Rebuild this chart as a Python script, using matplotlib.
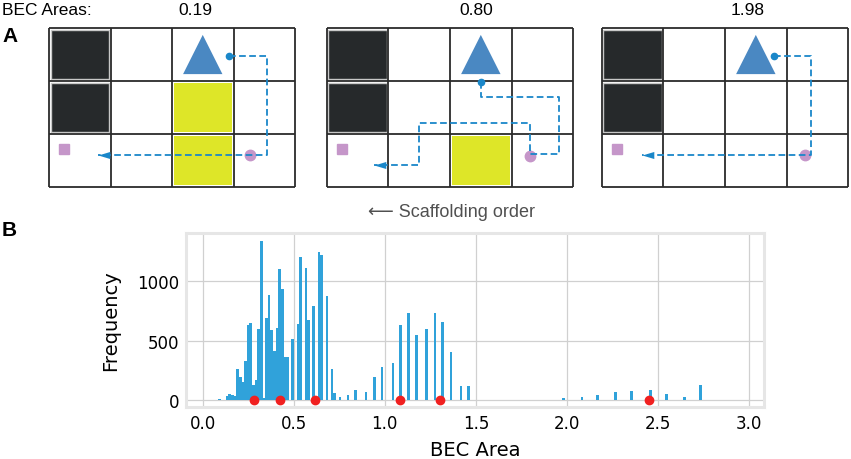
import matplotlib
matplotlib.use("Agg")
import matplotlib.pyplot as plt
from matplotlib.patches import Rectangle, Polygon

# ---- panel A data ----
bec_areas = ["0.19", "0.80", "1.98"]
dark_cells = [(0, 0), (0, 1)]
yellow_cells = [[(2, 1), (2, 2)], [(2, 2)], []]
path_x = [
    [2.92, 3.54, 3.54, 0.80],
    [2.50, 2.50, 3.76, 3.76, 3.29, 3.29, 1.50, 1.50, 0.77],
    [2.79, 3.39, 3.39, 0.65],
]
path_y = [
    [0.53, 0.53, 2.39, 2.39],
    [1.02, 1.30, 1.30, 2.37, 2.37, 1.79, 1.79, 2.58, 2.58],
    [0.53, 0.53, 2.39, 2.39],
]
circle_xy = [(3.27, 2.40), (3.29, 2.41), (3.29, 2.39)]
square_xy = (0.25, 2.28)

# ---- panel B data ----
hist_centers = [0.0916, 0.1348, 0.1492, 0.1636, 0.1780, 0.1924, 0.2068, 0.2212,
                0.2356, 0.2500, 0.2644, 0.2788, 0.2932, 0.3076, 0.3220, 0.3364,
                0.3508, 0.3652, 0.3796, 0.3940, 0.4084, 0.4228, 0.4372, 0.4516,
                0.4660, 0.4948, 0.5236, 0.5380, 0.5668, 0.5812, 0.6100, 0.6388,
                0.6532, 0.6820, 0.7108, 0.7252, 0.7540, 0.7972, 0.8404, 0.8968,
                0.9424, 0.9846, 1.0450, 1.0873, 1.1290, 1.1730, 1.2278, 1.2755,
                1.3178, 1.3623, 1.4172, 1.4610, 1.8810, 1.9820, 2.0820, 2.1685,
                2.2670, 2.3550, 2.4570, 2.5450, 2.6440, 2.7320, 2.8290, 2.8850]
hist_counts = [14, 36, 53, 47, 36, 264, 200, 153, 328, 632, 653, 130, 168, 602,
               1340, 21, 688, 882, 594, 412, 610, 1101, 936, 362, 362, 517, 643,
               1204, 1110, 672, 796, 1248, 1222, 878, 262, 61, 30, 46, 90, 75,
               200, 280, 312, 635, 733, 551, 596, 733, 655, 404, 125, 125, 3, 22,
               31, 45, 75, 78, 87, 53, 31, 126, 3, 3]
marked_areas = [0.282, 0.4265, 0.6186, 1.083, 1.3046, 2.450]

W, H = 851, 460


def box(x0, y0, x1, y1):
    # pixel box -> figure fraction [l, b, w, h]
    return [x0 / W, 1 - y1 / H, (x1 - x0) / W, (y1 - y0) / H]


fig = plt.figure(figsize=(W / 100, H / 100), dpi=100)
fig.patch.set_facecolor("white")

arrow_head = [(0, 0), (2, 0.6), (2, -0.6), (0, 0)]
panel_px = [(49, 295), (326.7, 573.3), (601.7, 848.3)]
label_px = [195, 476.7, 748]

for i, (x0, x1) in enumerate(panel_px):
    ax = fig.add_axes(box(x0, 29, x1, 188))
    ax.set_xlim(0, 4)
    ax.set_ylim(3, 0)
    ax.axis("off")
    for (c, r) in dark_cells:
        ax.add_patch(Rectangle((c + 0.025, r + 0.03), 0.95, 0.94,
                               facecolor="#26292b", edgecolor="#c8c8c8", lw=1))
    for (c, r) in yellow_cells[i]:
        ax.add_patch(Rectangle((c + 0.03, r + 0.035), 0.94, 0.93,
                               facecolor="#dee628", edgecolor="none"))
    ax.vlines(range(5), 0, 3, colors="#2b2b2b", lw=1.3, clip_on=False)
    ax.hlines(range(4), 0, 4, colors="#2b2b2b", lw=1.3, clip_on=False)
    ax.add_patch(Polygon([(2.18, 0.87), (2.82, 0.87), (2.5, 0.13)],
                         closed=True, facecolor="#4a88c2", edgecolor="none"))
    ax.plot(*square_xy, marker="s", ms=6.5, color="#c596c9", ls="none")
    ax.plot(*circle_xy[i], marker="o", ms=7.5, color="#c596c9", ls="none")
    ax.plot(path_x[i], path_y[i], color="#1a87c9", lw=1.3, dashes=(3.7, 1.9))
    ax.plot(path_x[i][0], path_y[i][0], marker="o", ms=4.5, color="#1a87c9")
    ax.plot(path_x[i][-1], path_y[i][-1], marker=arrow_head, ms=17,
            color="#1a87c9", mew=0)
    fig.text(label_px[i] / W, 1 - 10.5 / H, bec_areas[i], ha="center",
             va="center", fontsize=12.5, family="Liberation Sans")

fig.text(2 / W, 1 - 10.5 / H, "BEC Areas:", ha="left", va="center",
         fontsize=12.5, family="Liberation Sans")
fig.text(2 / W, 1 - 37 / H, "A", ha="left", va="center", fontsize=15,
         fontweight="bold", family="Liberation Sans")
fig.text(2 / W, 1 - 231 / H, "B", ha="left", va="center", fontsize=15,
         fontweight="bold", family="Liberation Sans")
fig.text(451 / W, 1 - 213 / H, "\u27f5 Scaffolding order", ha="center",
         va="center", fontsize=13, color="#505050",
         family=["Liberation Sans", "DejaVu Sans"])

# ---- histogram ----
ax = fig.add_axes(box(186, 234, 764, 408))
ax.bar(hist_centers, hist_counts, width=0.0144, color="#30a2da", lw=0, zorder=2)
ax.plot(marked_areas, [0] * len(marked_areas), "o", color="#f02020", ms=6,
        zorder=3, clip_on=False)
ax.set_xlim(-0.091, 3.081)
ax.set_ylim(-55, 1405)
ax.set_xticks([0.0, 0.5, 1.0, 1.5, 2.0, 2.5, 3.0])
ax.set_yticks([0, 500, 1000])
ax.grid(True, color="#d0d0d0", lw=0.9, zorder=0)
ax.set_axisbelow(True)
for s in ax.spines.values():
    s.set_color("#e6e6e6")
    s.set_linewidth(2.2)
ax.tick_params(length=0, labelsize=12, pad=5)
ax.set_xlabel("BEC Area", fontsize=14, labelpad=6)
ax.set_ylabel("Frequency", fontsize=14, labelpad=12)

fig.savefig("out.png", dpi=100)
